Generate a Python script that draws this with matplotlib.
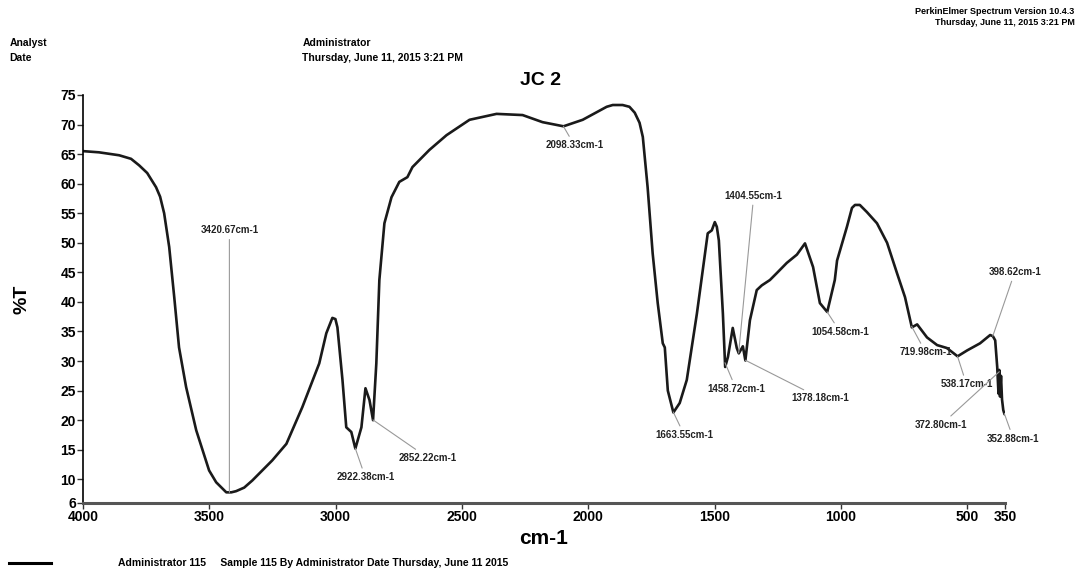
import numpy as np
import matplotlib
matplotlib.use('Agg')
import matplotlib.pyplot as plt

plt.rcParams['font.family'] = ['Liberation Sans', 'DejaVu Sans']

# FTIR spectrum of sample JC 2, wavenumber (cm-1) vs transmittance (%T)
wavenumber = [4000, 3937, 3857, 3810, 3778, 3746, 3711, 3695, 3679, 3659, 3639,
              3620, 3592, 3552, 3501, 3473, 3433, 3413, 3394, 3362, 3330, 3251,
              3195, 3132, 3065, 3037, 3013, 3001, 2993, 2973, 2958, 2938, 2922,
              2898, 2882, 2866, 2852, 2839, 2827, 2807, 2779, 2748, 2716, 2696,
              2629, 2561, 2470, 2363, 2260, 2181, 2098, 2022, 1927, 1903, 1864,
              1837, 1816, 1797, 1784, 1765, 1745, 1725, 1705, 1697, 1685, 1663,
              1638, 1610, 1570, 1527, 1511, 1499, 1491, 1483, 1467, 1458, 1447,
              1428, 1412, 1404, 1388, 1378, 1360, 1333, 1313, 1281, 1253, 1214,
              1174, 1142, 1110, 1083, 1054, 1024, 1015, 976, 956, 944, 925, 897,
              857, 817, 778, 746, 719, 698, 659, 619, 580, 538, 500, 449, 409,
              398, 389, 381, 376, 373, 370, 366, 362, 357, 352]
transmittance = [65.5, 65.3, 64.8, 64.2, 63.1, 61.8, 59.4, 57.8, 55.0, 49.3, 40.8,
                 32.3, 25.6, 18.3, 11.5, 9.5, 7.8, 7.8, 8.0, 8.6, 9.8, 13.2,
                 16.0, 22.2, 29.6, 34.7, 37.3, 37.1, 35.7, 26.8, 18.8, 18.0, 15.2,
                 18.8, 25.4, 23.4, 20.0, 29.6, 43.7, 53.3, 57.7, 60.3, 61.1, 62.8,
                 65.7, 68.2, 70.8, 71.8, 71.6, 70.4, 69.7, 70.8, 73.0, 73.3, 73.3,
                 73.0, 72.0, 70.3, 67.9, 59.4, 48.2, 39.8, 33.0, 32.3, 25.0, 21.3,
                 22.9, 26.8, 38.0, 51.6, 52.1, 53.5, 52.7, 50.4, 38.0, 29.0, 30.7,
                 35.6, 32.2, 31.3, 32.5, 30.1, 36.9, 42.0, 42.8, 43.7, 44.9, 46.6,
                 48.0, 49.9, 45.9, 39.8, 38.3, 43.7, 47.0, 52.7, 55.9, 56.4, 56.4, 55.2,
                 53.3, 50.0, 44.9, 40.8, 35.7, 36.2, 34.0, 32.7, 32.2, 30.8, 31.8, 33.0, 34.4,
                 34.2, 33.5, 29.0, 24.5, 28.5, 24.0, 27.5, 23.5, 21.7, 21.0]

peak_labels = [3420.67, 2922.38, 2852.22, 2098.33, 1663.55, 1458.72, 1404.55,
               1378.18, 1054.58, 719.98, 538.17, 398.62, 372.80, 352.88]
# label offsets from the peak point, in pixels
label_offsets = [(0, 262), (10, -29), (55, -38), (11, -19), (11, -23), (11, -26),
                 (15, 157), (75, -38), (13, -20), (14, -26), (9, -28), (22, 64),
                 (-58, -53), (9, -25)]

yticks = [6, 10, 15, 20, 25, 30, 35, 40, 45, 50, 55, 60, 65, 70, 75]
xticks = [4000, 3500, 3000, 2500, 2000, 1500, 1000, 500, 350]

fig = plt.figure(figsize=(10.8, 5.79), dpi=100)
ax = fig.add_axes([0.0769, 0.1313, 0.8537, 0.7047])

ax.plot(wavenumber, transmittance, color='#1a1a1a', lw=1.9,
        solid_joinstyle='round', solid_capstyle='round')
ax.set_xlim(4000, 350)
ax.set_ylim(6, 75)
ax.set_yticks(yticks)
ax.set_xticks(xticks)
ax.tick_params(labelsize=10, width=1, length=4, color='#333333')
for lab in ax.get_xticklabels() + ax.get_yticklabels():
    lab.set_fontweight('bold')
ax.tick_params(axis='x', pad=1)
ax.tick_params(axis='y', pad=1)
for s in ['top', 'right']:
    ax.spines[s].set_visible(False)
ax.spines['left'].set_linewidth(1.2)
ax.spines['bottom'].set_linewidth(2.2)
ax.spines['bottom'].set_color('#555555')

wn_inc = wavenumber[::-1]
t_inc = transmittance[::-1]
for wn, (dx, dy) in zip(peak_labels, label_offsets):
    t = np.interp(wn, wn_inc, t_inc)
    ax.annotate('%.2fcm-1' % wn, xy=(wn, t), xytext=(dx, dy),
                textcoords='offset pixels', ha='center', va='center',
                fontsize=7, fontweight='bold', color='#222222',
                arrowprops=dict(arrowstyle='-', color='#999999', lw=0.8,
                                shrinkA=1, shrinkB=0))

ax.set_ylabel('%T', fontsize=14, fontweight='bold', labelpad=22)
ax.set_xlabel('cm-1', fontsize=15, fontweight='bold', labelpad=4)
fig.text(0.5, 0.853, 'JC 2', fontsize=14, fontweight='bold', ha='center')

fig.text(0.009, 0.925, 'Analyst', fontsize=7.5, fontweight='bold', va='center')
fig.text(0.009, 0.900, 'Date', fontsize=7.5, fontweight='bold', va='center')
fig.text(0.28, 0.925, 'Administrator', fontsize=7.5, fontweight='bold', va='center')
fig.text(0.28, 0.900, 'Thursday, June 11, 2015 3:21 PM', fontsize=7.5,
         fontweight='bold', va='center')
fig.text(0.995, 0.981, 'PerkinElmer Spectrum Version 10.4.3', fontsize=6.5,
         fontweight='bold', ha='right', va='center')
fig.text(0.995, 0.962, 'Thursday, June 11, 2015 3:21 PM', fontsize=6.5,
         fontweight='bold', ha='right', va='center')

fig.add_artist(plt.Line2D([0.008, 0.047], [0.028, 0.028], color='black', lw=2.2))
fig.text(0.109, 0.028, 'Administrator 115     Sample 115 By Administrator Date Thursday, June 11 2015',
         fontsize=7.5, fontweight='bold', va='center')

fig.savefig('out.png', dpi=100)
